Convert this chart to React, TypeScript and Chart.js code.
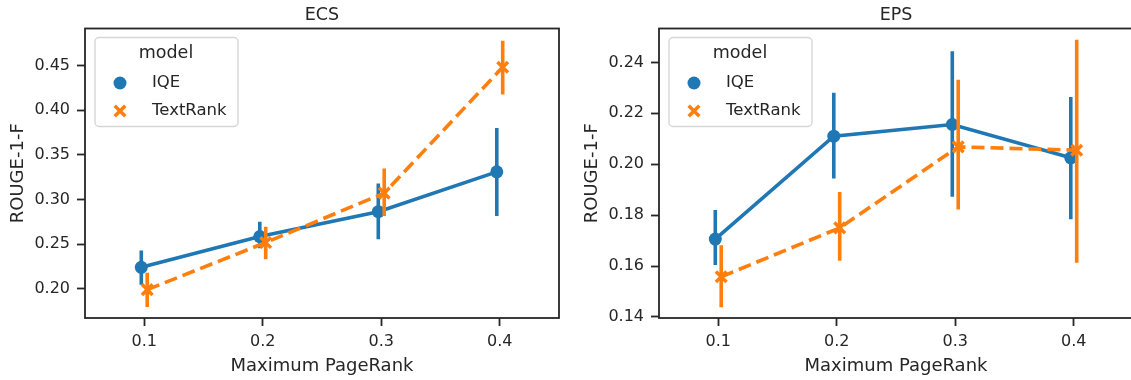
import React, { useEffect, useRef } from "react";
import { Chart, registerables } from "chart.js";

Chart.register(...registerables);

// ---------- data ----------
const categories = ["0.1", "0.2", "0.3", "0.4"];

const ecsIqe = [0.224, 0.2584, 0.2863, 0.3309];
const ecsIqeLow = [0.2045, 0.2454, 0.2555, 0.2815];
const ecsIqeHigh = [0.2427, 0.2751, 0.318, 0.38];
const ecsTextRank = [0.199, 0.2517, 0.3071, 0.4481];
const ecsTextRankLow = [0.1796, 0.2331, 0.2815, 0.4176];
const ecsTextRankHigh = [0.218, 0.2695, 0.3347, 0.4777];

const epsIqe = [0.1706, 0.211, 0.2156, 0.2025];
const epsIqeLow = [0.1604, 0.1944, 0.1872, 0.1784];
const epsIqeHigh = [0.182, 0.2281, 0.2444, 0.2264];
const epsTextRank = [0.1558, 0.175, 0.2068, 0.2055];
const epsTextRankLow = [0.1438, 0.1621, 0.1822, 0.1613];
const epsTextRankHigh = [0.1682, 0.1891, 0.2332, 0.2489];

const ecsTicks = [0.2, 0.25, 0.3, 0.35, 0.4, 0.45];
const epsTicks = [0.14, 0.16, 0.18, 0.2, 0.22, 0.24];
const ecsRange = [0.1672, 0.4915];
const epsRange = [0.1396, 0.2533];

const seriesNames = ["IQE", "TextRank"];
const legendTitle = "model";
const xLabel = "Maximum PageRank";
const yLabel = "ROUGE-1-F";

// ---------- style ----------
const BLUE = "#1f77b4";
const ORANGE = "#ff7f0e";
const TEXT = "#262626";
const FONT = "'DejaVu Sans', 'Liberation Sans', sans-serif";
const DODGE = 0.025;

Chart.defaults.font.family = FONT;

const errorBarPlugin = {
  id: "errorBars",
  beforeDatasetDraw(chart: any, args: any) {
    const ds: any = chart.data.datasets[args.index];
    const xs = chart.scales.x;
    const ys = chart.scales.y;
    const ca = chart.chartArea;
    const ctx = chart.ctx;
    ctx.save();
    ctx.beginPath();
    ctx.rect(ca.left, ca.top, ca.right - ca.left, ca.bottom - ca.top);
    ctx.clip();
    ctx.strokeStyle = ds.borderColor;
    ctx.lineWidth = ds.errWidth;
    ctx.lineCap = "butt";
    ds.data.forEach((p: any, i: number) => {
      const x = xs.getPixelForValue(p.x);
      ctx.beginPath();
      ctx.moveTo(x, ys.getPixelForValue(ds.errLow[i]));
      ctx.lineTo(x, ys.getPixelForValue(ds.errHigh[i]));
      ctx.stroke();
    });
    ctx.restore();
  },
};

const boxPlugin = {
  id: "axesBox",
  afterDatasetsDraw(chart: any) {
    const ca = chart.chartArea;
    const ctx = chart.ctx;
    ctx.save();
    ctx.strokeStyle = TEXT;
    ctx.lineWidth = 1.8;
    ctx.strokeRect(ca.left, ca.top, ca.right - ca.left, ca.bottom - ca.top);
    ctx.restore();
  },
};

function roundRect(ctx: CanvasRenderingContext2D, x: number, y: number, w: number, h: number, r: number) {
  ctx.beginPath();
  ctx.moveTo(x + r, y);
  ctx.lineTo(x + w - r, y);
  ctx.arcTo(x + w, y, x + w, y + r, r);
  ctx.lineTo(x + w, y + h - r);
  ctx.arcTo(x + w, y + h, x + w - r, y + h, r);
  ctx.lineTo(x + r, y + h);
  ctx.arcTo(x, y + h, x, y + h - r, r);
  ctx.lineTo(x, y + r);
  ctx.arcTo(x, y, x + r, y, r);
  ctx.closePath();
}

const legendPlugin = {
  id: "innerLegend",
  afterDatasetsDraw(chart: any) {
    const ca = chart.chartArea;
    const ctx = chart.ctx;
    const bx = ca.left + 10;
    const by = ca.top + 9;
    const bw = 143;
    const bh = 89;
    ctx.save();
    roundRect(ctx, bx, by, bw, bh, 4);
    ctx.fillStyle = "rgba(255,255,255,0.8)";
    ctx.fill();
    ctx.strokeStyle = "rgba(204,204,204,0.8)";
    ctx.lineWidth = 1.4;
    ctx.stroke();

    ctx.fillStyle = TEXT;
    ctx.textBaseline = "middle";
    ctx.textAlign = "center";
    ctx.font = `17.5px ${FONT}`;
    ctx.fillText(legendTitle, bx + 71, by + 16);

    ctx.textAlign = "left";
    ctx.font = `16.5px ${FONT}`;
    const rows = [by + 45.5, by + 73.5];
    chart.data.datasets.forEach((ds: any, i: number) => {
      const my = rows[i];
      const mx = bx + 25;
      if (ds.pointStyle === "circle") {
        ctx.beginPath();
        ctx.arc(mx, my, ds.pointRadius, 0, Math.PI * 2);
        ctx.fillStyle = ds.borderColor;
        ctx.fill();
      } else {
        const d = ds.pointRadius * Math.SQRT1_2;
        ctx.beginPath();
        ctx.moveTo(mx - d, my - d);
        ctx.lineTo(mx + d, my + d);
        ctx.moveTo(mx - d, my + d);
        ctx.lineTo(mx + d, my - d);
        ctx.strokeStyle = ds.borderColor;
        ctx.lineWidth = ds.pointBorderWidth;
        ctx.stroke();
      }
      ctx.fillStyle = TEXT;
      ctx.fillText(ds.label, bx + 57, my);
    });
    ctx.restore();
  },
};

type PanelProps = {
  title: string;
  iqe: number[];
  iqeLow: number[];
  iqeHigh: number[];
  tr: number[];
  trLow: number[];
  trHigh: number[];
  ticks: number[];
  range: number[];
  left: number;
};

function Panel(p: PanelProps) {
  const ref = useRef<HTMLCanvasElement | null>(null);
  useEffect(() => {
    if (!ref.current) return;
    const chart = new Chart(ref.current, {
      type: "line",
      data: {
        datasets: [
          {
            label: seriesNames[0],
            data: p.iqe.map((v, i) => ({ x: i - DODGE, y: v })),
            borderColor: BLUE,
            backgroundColor: BLUE,
            pointBackgroundColor: BLUE,
            pointBorderColor: BLUE,
            borderWidth: 3.6,
            pointStyle: "circle",
            pointRadius: 6.5,
            pointBorderWidth: 0,
            tension: 0,
            fill: false,
            order: 2,
            errLow: p.iqeLow,
            errHigh: p.iqeHigh,
            errWidth: 3.6,
          } as any,
          {
            label: seriesNames[1],
            data: p.tr.map((v, i) => ({ x: i + DODGE, y: v })),
            borderColor: ORANGE,
            backgroundColor: ORANGE,
            pointBackgroundColor: ORANGE,
            pointBorderColor: ORANGE,
            borderWidth: 3.6,
            borderDash: [13, 6],
            borderCapStyle: "butt",
            pointStyle: "crossRot",
            pointRadius: 7.5,
            pointBorderWidth: 3.5,
            tension: 0,
            fill: false,
            order: 1,
            errLow: p.trLow,
            errHigh: p.trHigh,
            errWidth: 3.6,
          } as any,
        ],
      },
      options: {
        animation: false,
        responsive: false,
        events: [],
        layout: { padding: { left: 0, right: 7, top: 0, bottom: 0 } },
        plugins: {
          legend: { display: false },
          tooltip: { enabled: false },
          title: {
            display: true,
            text: p.title,
            fullSize: false,
            color: TEXT,
            font: { size: 17.5, weight: "normal" as any, family: FONT },
            padding: { top: 4.5, bottom: 3 },
          } as any,
        },
        scales: {
          x: {
            type: "linear",
            min: -0.5,
            max: 3.5,
            afterBuildTicks: (s: any) => {
              s.ticks = categories.map((_, i) => ({ value: i }));
            },
            afterFit: (s: any) => {
              s.height = 62;
            },
            ticks: {
              callback: (v: any) => categories[Math.round(Number(v))],
              color: TEXT,
              font: { size: 16, family: FONT },
              padding: 6.4,
              maxRotation: 0,
              autoSkip: false,
            },
            grid: {
              drawOnChartArea: false,
              drawTicks: true,
              tickLength: 8,
              tickWidth: 1.8,
              tickColor: TEXT,
            },
            border: { display: false },
            title: {
              display: true,
              text: xLabel,
              color: TEXT,
              font: { size: 18, family: FONT },
              padding: { top: 0, bottom: 3.2 },
            },
          },
          y: {
            type: "linear",
            min: p.range[0],
            max: p.range[1],
            afterBuildTicks: (s: any) => {
              s.ticks = p.ticks.map((v) => ({ value: v }));
            },
            afterFit: (s: any) => {
              s.width = 85;
            },
            ticks: {
              callback: (v: any) => Number(v).toFixed(2),
              color: TEXT,
              font: { size: 16, family: FONT },
              padding: 7,
            },
            grid: {
              drawOnChartArea: false,
              drawTicks: true,
              tickLength: 8,
              tickWidth: 1.8,
              tickColor: TEXT,
            },
            border: { display: false },
            title: {
              display: true,
              text: yLabel,
              color: TEXT,
              font: { size: 18, family: FONT },
              padding: { top: 7.2, bottom: 0 },
            },
          },
        },
      },
      plugins: [errorBarPlugin, boxPlugin, legendPlugin],
    });
    return () => chart.destroy();
  }, []);
  return (
    <canvas
      ref={ref}
      width={570}
      height={380}
      style={{ position: "absolute", left: p.left, top: 0, width: 570, height: 380 }}
    />
  );
}

export default function App() {
  return (
    <div
      style={{
        position: "fixed",
        left: 0,
        top: 0,
        width: 1131,
        height: 380,
        overflow: "hidden",
        background: "#ffffff",
      }}
    >
      <Panel
        title="ECS"
        iqe={ecsIqe}
        iqeLow={ecsIqeLow}
        iqeHigh={ecsIqeHigh}
        tr={ecsTextRank}
        trLow={ecsTextRankLow}
        trHigh={ecsTextRankHigh}
        ticks={ecsTicks}
        range={ecsRange}
        left={0}
      />
      <Panel
        title="EPS"
        iqe={epsIqe}
        iqeLow={epsIqeLow}
        iqeHigh={epsIqeHigh}
        tr={epsTextRank}
        trLow={epsTextRankLow}
        trHigh={epsTextRankHigh}
        ticks={epsTicks}
        range={epsRange}
        left={574}
      />
    </div>
  );
}
